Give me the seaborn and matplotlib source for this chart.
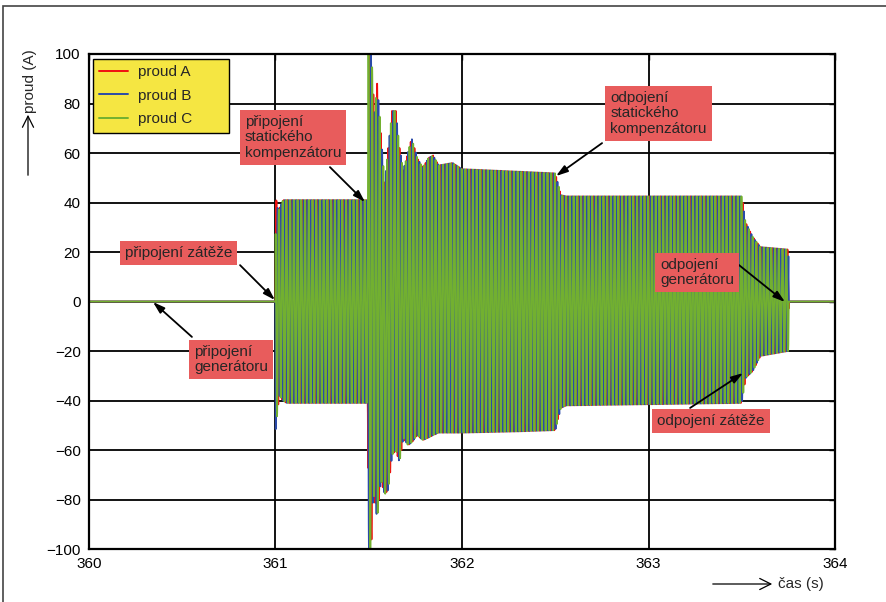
import numpy as np
import pandas as pd
import matplotlib
matplotlib.use("Agg")
import matplotlib.pyplot as plt
import seaborn as sns
from matplotlib.lines import Line2D
from matplotlib.patches import Rectangle, FancyArrowPatch

# Measurement window and network frequency
t_start, t_end = 360.0, 364.0
f_grid = 50.0          # Hz
fs = 10000.0           # samples per second

# Peak envelope of the phase currents: breakpoint times (s), upper and lower peaks (A)
env_time = [360.000, 361.000, 361.001, 361.010, 361.020, 361.040, 361.060, 361.495,
            361.498, 361.512, 361.520, 361.530, 361.545, 361.565, 361.585, 361.605,
            361.625, 361.645, 361.665, 361.685, 361.710, 361.730, 361.760, 361.790,
            361.820, 361.845, 361.875, 361.950, 362.000, 362.300, 362.500, 362.530,
            362.560, 363.500, 363.520, 363.560, 363.600, 363.750, 363.752, 364.000]
env_upper = [0, 0, 43, 38, 37, 41, 41, 41,
             104, 104, 92, 75, 88, 68, 48, 62,
             77, 77, 62, 53, 60, 66, 58, 54,
             58, 59, 55, 56, 53.5, 52.5, 51.8, 43,
             42.5, 42.5, 32, 26, 22, 21, 0, 0]
env_lower = [0, 0, -52, -45, -38, -40, -41, -41,
             -104, -104, -82, -78, -88, -72, -78, -76,
             -62, -60, -65, -55, -58, -57, -54, -56,
             -55, -54, -53, -53, -53, -52.5, -52, -43,
             -42, -41, -31, -28, -22, -20, 0, 0]

phases = ["proud A", "proud B", "proud C"]
phase_shift_deg = [0.0, -120.0, 120.0]
colors = ["#f01010", "#2a4aa8", "#72b030"]

x_ticks = [360, 361, 362, 363, 364]
y_ticks = list(range(-100, 101, 20))

# Build the three sampled phase currents from the envelope
t = np.arange(t_start, t_end + 1.0 / fs, 1.0 / fs)
upper = np.interp(t, env_time, env_upper)
lower = np.interp(t, env_time, env_lower)
mid = (upper + lower) / 2.0
half = (upper - lower) / 2.0
frames = []
for name, shift in zip(phases, phase_shift_deg):
    i = mid + half * np.sin(2 * np.pi * f_grid * (t - t_start) + np.deg2rad(shift))
    frames.append(pd.DataFrame({"cas": t, "proud": i, "faze": name}))
df = pd.concat(frames, ignore_index=True)

sns.set_style("white")
plt.rcParams["font.family"] = ["Liberation Sans", "DejaVu Sans"]
plt.rcParams["axes.unicode_minus"] = True

fig = plt.figure(figsize=(8.87, 6.02), dpi=100)
ax = fig.add_axes([0.1003, 0.0880, 0.8411, 0.8223])

sns.lineplot(data=df, x="cas", y="proud", hue="faze", hue_order=phases,
             palette=colors, estimator=None, sort=False, errorbar=None,
             linewidth=1.3, legend=False, ax=ax)

ax.set_xlim(t_start, t_end)
ax.set_ylim(-100, 100)
ax.set_xticks(x_ticks)
ax.set_yticks(y_ticks)
ax.set_xlabel("")
ax.set_ylabel("")
ax.grid(True, color="black", linewidth=1.3)
ax.set_axisbelow(True)
for s in ax.spines.values():
    s.set_color("black")
    s.set_linewidth(1.6)
ax.tick_params(direction="in", length=4, width=1, colors="black",
               labelsize=11, top=True, right=True, pad=6)

# Legend
handles = [Line2D([0], [0], color=c, lw=1.4) for c in colors]
leg = ax.legend(handles, phases, loc="upper left",
                bbox_to_anchor=(0.0054, 0.99, 0.182, 0.0), mode="expand",
                borderaxespad=0.0, fancybox=False, framealpha=1.0,
                facecolor="#f5e642", edgecolor="black", fontsize=11,
                labelspacing=0.62, handlelength=1.9, handletextpad=0.6,
                borderpad=0.42)
leg.get_frame().set_linewidth(1.0)

# Event annotations
box = dict(boxstyle="square,pad=0.33", facecolor="#e85c5c", edgecolor="none")
arrow = dict(arrowstyle="-|>,head_length=0.7,head_width=0.22", color="black",
             lw=1.3, shrinkA=0, shrinkB=0)
events = [
    ("připojení zátěže", (360.193, 19.6), (360.81, 14.7), (360.997, 0.6)),
    ("připojení\ngenerátoru", (360.563, -23.4), (360.552, -14.3), (360.343, -0.2)),
    ("připojení\nstatického\nkompenzátoru", (360.836, 66.3), (361.292, 54.3), (361.48, 40.2)),
    ("odpojení\nstatického\nkompenzátoru", (362.794, 76.0), (362.751, 64.0), (362.504, 50.7)),
    ("odpojení\ngenerátoru", (363.062, 11.7), (363.464, 16.0), (363.732, -0.2)),
    ("odpojení zátěže", (363.046, -48.3), (363.223, -43.0), (363.507, -28.9)),
]
for label, pos, start, end in events:
    ax.annotate("", xy=end, xytext=start, arrowprops=arrow, zorder=6)
    ax.text(pos[0], pos[1], label, ha="left", va="center", fontsize=11,
            linespacing=1.1, bbox=box, zorder=7)

# Axis titles with leading arrows
fig.text(30 / 887, 1 - 81 / 602, "proud (A)", rotation=90, ha="center",
         va="center", fontsize=11)
fig.add_artist(FancyArrowPatch(
    (28 / 887, 1 - 178 / 602), (28 / 887, 1 - 112 / 602),
    transform=fig.transFigure, arrowstyle="->,head_length=8,head_width=4",
    color="black", lw=0.9))
fig.text(778 / 887, 1 - 584 / 602, "čas (s)", ha="left", va="center",
         fontsize=11)
fig.add_artist(FancyArrowPatch(
    (710 / 887, 1 - 584 / 602), (775 / 887, 1 - 584 / 602),
    transform=fig.transFigure, arrowstyle="->,head_length=8,head_width=4",
    color="black", lw=0.9))

# Outer frame of the figure
fig.patches.append(Rectangle((3.5 / 887, -0.05), 1.2, 1 - 6 / 602 + 0.05,
                             transform=fig.transFigure, fill=False,
                             edgecolor="#444444", linewidth=1.2))

fig.savefig("out.png", dpi=100)
